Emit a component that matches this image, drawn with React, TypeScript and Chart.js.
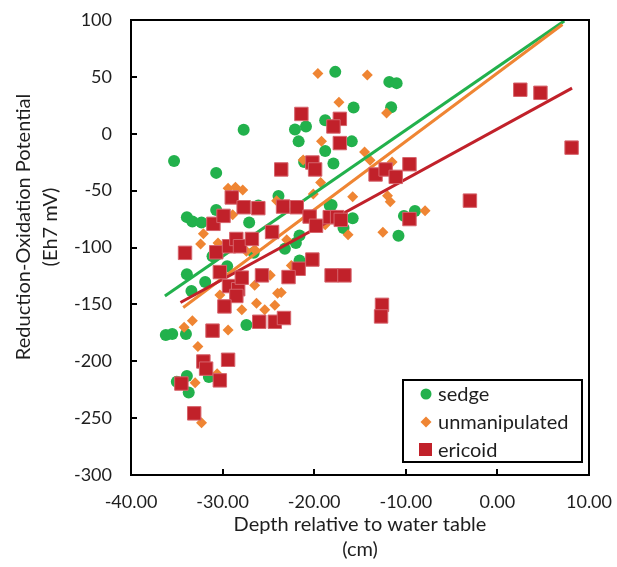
import React, { useEffect, useRef } from 'react';
import { Chart, registerables } from 'chart.js';

Chart.register(...registerables);

// Depth relative to water table (cm), Eh7 (mV)
const sedge: [number, number][] = [
  [-27.7, 3.5], [-35.3, -24], [-30.7, -34.4], [-30.7, -67], [-26.1, -63], [-17.7, 54.4],
  [-11.8, 45.6], [-11.0, 44.5], [-15.7, 23], [-11.6, 23.2], [-18.8, 11.9], [-22.1, 3.8],
  [-20.9, 6.4], [-21.7, -6.7], [-15.9, -6.7], [-18.8, -15.2], [-17.9, -26.2], [-21.1, -24.8],
  [-23.9, -54.7], [-18.1, -62.6], [-9.0, -68], [-10.2, -72.2], [-33.9, -73.3], [-33.3, -77.1],
  [-32.3, -78], [-27.1, -78], [-26.6, -104.7], [-31.1, -107.7], [-29.5, -116.4], [-33.9, -123.6],
  [-31.9, -130.4], [-33.4, -138.2], [-36.2, -176.9], [-35.5, -176], [-34.0, -176], [-27.4, -168.2],
  [-33.9, -212.9], [-31.5, -213.8], [-33.7, -227.5], [-35.0, -218], [-18.3, -63], [-15.8, -74.2],
  [-16.8, -82.9], [-10.8, -89.6], [-21.6, -89.4], [-22.0, -96], [-23.2, -101.2], [-21.6, -111.4],
];

const unmanipulated: [number, number][] = [
  [-29.4, -48], [-28.6, -47], [-27.8, -49.5], [-19.6, 52.9], [-14.2, 51.7], [-17.3, 27.6],
  [-12.1, 18.3], [-19.2, -6.7], [-14.5, -16], [-13.9, -23.3], [-11.5, -24.8], [-19.3, -42.8],
  [-20.1, -53], [-24.1, -58.8], [-15.8, -55.3], [-12.0, -54.4], [-11.7, -59.7], [-7.9, -67.8],
  [-28.9, -71.3], [-32.1, -87.9], [-32.4, -96.9], [-30.5, -96], [-27.4, -103.3], [-26.5, -101.8],
  [-26.5, -133.2], [-30.3, -141.7], [-26.3, -149], [-25.4, -154.8], [-27.9, -154.8], [-34.2, -170.2],
  [-33.3, -164.4], [-29.4, -172.5], [-32.7, -187.1], [-30.6, -210.9], [-33.0, -218.8], [-32.3, -254],
  [-16.3, -88.7], [-18.8, -80], [-12.5, -86.7], [-23.0, -93.1], [-22.5, -115.8], [-24.8, -124.5],
  [-24.0, -140.2], [-23.6, -139.6], [-24.3, -150.7], [-21.2, -23],
];

const ericoid: [number, number][] = [
  [-29.0, -56], [-27.7, -64.6], [-26.1, -65.4], [-21.4, 17.4], [-17.2, 13.1], [-17.9, 6.4],
  [-17.2, -8.2], [-20.2, -25.3], [-19.9, -31.4], [-23.6, -31.4], [-13.3, -35.8], [-12.2, -31.4],
  [-11.1, -37.9], [-9.6, -26.8], [-23.4, -64], [-21.9, -64.6], [2.5, 38.7], [4.7, 36],
  [8.1, -12.2], [-3.0, -58.8], [-31.0, -79.2], [-29.9, -72.2], [-34.1, -104.7], [-30.7, -104.2],
  [-29.3, -98.9], [-28.5, -92.5], [-28.1, -98.9], [-26.8, -92.5], [-30.3, -121.6], [-29.3, -133.9],
  [-28.3, -136.7], [-27.9, -126.5], [-28.5, -142.6], [-25.7, -124.5], [-29.8, -151.8], [-31.1, -173.1],
  [-26.0, -165.3], [-32.1, -200.2], [-31.8, -206.5], [-29.4, -198.7], [-34.5, -219.6], [-30.3, -216.8],
  [-33.1, -245.8], [-20.5, -72.8], [-19.8, -80.9], [-18.3, -73.3], [-17.5, -73.3], [-17.1, -75.7],
  [-9.6, -75], [-24.6, -86.4], [-20.2, -110.6], [-21.7, -118.7], [-22.8, -126], [-18.1, -124.5],
  [-16.7, -124.5], [-24.3, -165.3], [-23.3, -162], [-12.6, -150.4], [-12.7, -160.6],
];

// linear trendline end points
const sedgeFit: [number, number][] = [[-36.3, -142.6], [7.3, 99.2]];
const unmanipulatedFit: [number, number][] = [[-34.3, -152.7], [7.1, 96]];
const ericoidFit: [number, number][] = [[-34.6, -148.3], [8.15, 40.1]];

const seriesNames = ['sedge', 'unmanipulated', 'ericoid'];
const xTitle = ['Depth relative to water table', '(cm)'];
const yTitle = ['Reduction-Oxidation Potential', '(Eh7 mV)'];

const GREEN = '#22B14C';
const ORANGE = '#EF8533';
const RED = '#C1212A';
const FONT = 'Lato, "Liberation Sans", sans-serif';
const TEXT = '#1e1e1e';

const toPts = (arr: [number, number][]) => arr.map(([x, y]) => ({ x, y }));

const decorPlugin = {
  id: 'decor',
  afterDraw(chart: any) {
    const { ctx, chartArea: a, scales } = chart;
    ctx.save();
    // frame
    ctx.strokeStyle = '#000';
    ctx.lineWidth = 2;
    ctx.strokeRect(a.left, a.top, a.right - a.left, a.bottom - a.top);
    // inward tick marks
    const xs = scales.x, ys = scales.y;
    ctx.beginPath();
    xs.ticks.forEach((t: any) => {
      const px = Math.round(xs.getPixelForValue(t.value));
      ctx.moveTo(px, a.bottom);
      ctx.lineTo(px, a.bottom - 6);
    });
    ys.ticks.forEach((t: any) => {
      const py = Math.round(ys.getPixelForValue(t.value));
      ctx.moveTo(a.left, py);
      ctx.lineTo(a.left + 6, py);
    });
    ctx.stroke();

    // y title
    ctx.fillStyle = TEXT;
    ctx.font = '20px ' + FONT;
    ctx.textAlign = 'center';
    ctx.textBaseline = 'middle';
    const cy = 227;
    [24, 51].forEach((cx, i) => {
      ctx.save();
      ctx.translate(cx, cy);
      ctx.rotate(-Math.PI / 2);
      ctx.fillText(yTitle[i], 0, 0);
      ctx.restore();
    });

    // legend box
    const lx = 403, ly = 380, lw = 179, lh = 82;
    ctx.fillStyle = '#fff';
    ctx.fillRect(lx, ly, lw, lh);
    ctx.strokeStyle = '#000';
    ctx.lineWidth = 2;
    ctx.strokeRect(lx, ly, lw, lh);
    const rows = [394, 422, 450];
    const mx = 426;
    ctx.fillStyle = GREEN;
    ctx.beginPath();
    ctx.arc(mx, rows[0], 5.5, 0, Math.PI * 2);
    ctx.fill();
    ctx.fillStyle = ORANGE;
    ctx.beginPath();
    ctx.moveTo(mx - 5.5, rows[1]);
    ctx.lineTo(mx, rows[1] - 5.5);
    ctx.lineTo(mx + 5.5, rows[1]);
    ctx.lineTo(mx, rows[1] + 5.5);
    ctx.closePath();
    ctx.fill();
    ctx.fillStyle = RED;
    ctx.fillRect(mx - 7, rows[2] - 7, 13, 13);

    ctx.fillStyle = TEXT;
    ctx.font = '20px ' + FONT;
    ctx.textAlign = 'left';
    ctx.textBaseline = 'middle';
    seriesNames.forEach((n, i) => ctx.fillText(n, 438, rows[i] + 1));
    ctx.restore();
  },
};

export default function App() {
  const ref = useRef<HTMLCanvasElement>(null);
  useEffect(() => {
    if (!ref.current) return;
    const chart = new Chart(ref.current, {
      type: 'scatter',
      data: {
        datasets: [
          {
            label: seriesNames[2],
            data: toPts(ericoid),
            pointStyle: 'rect',
            pointRadius: 9.5,
            backgroundColor: RED,
            borderColor: '#D6646C',
            borderWidth: 1,
            order: 0,
          },
          {
            label: 'ericoid fit',
            data: toPts(ericoidFit),
            showLine: true,
            borderColor: RED,
            borderWidth: 3,
            pointRadius: 0,
            order: 1,
          },
          {
            label: 'unmanipulated fit',
            data: toPts(unmanipulatedFit),
            showLine: true,
            borderColor: ORANGE,
            borderWidth: 3,
            pointRadius: 0,
            order: 1,
          },
          {
            label: 'sedge fit',
            data: toPts(sedgeFit),
            showLine: true,
            borderColor: GREEN,
            borderWidth: 3,
            pointRadius: 0,
            order: 1,
          },
          {
            label: seriesNames[1],
            data: toPts(unmanipulated),
            pointStyle: 'rectRot',
            pointRadius: 5.5,
            backgroundColor: ORANGE,
            borderWidth: 0,
            order: 2,
          },
          {
            label: seriesNames[0],
            data: toPts(sedge),
            pointStyle: 'circle',
            pointRadius: 6,
            backgroundColor: GREEN,
            borderWidth: 0,
            order: 3,
          },
        ],
      },
      options: {
        animation: false,
        responsive: true,
        maintainAspectRatio: false,
        events: [],
        layout: { padding: { left: 0, right: 28, top: 20, bottom: 0 } },
        plugins: { legend: { display: false }, tooltip: { enabled: false } },
        scales: {
          x: {
            type: 'linear',
            min: -40,
            max: 10,
            grid: { display: false, drawTicks: false },
            border: { display: false },
            ticks: {
              stepSize: 10,
              padding: 16,
              color: TEXT,
              font: { family: FONT, size: 18 },
              callback: (v: any) => Number(v).toFixed(2),
            },
            title: {
              display: true,
              text: xTitle,
              color: TEXT,
              font: { family: FONT, size: 20, lineHeight: 1.25 },
              padding: { top: 0, bottom: 5 },
            },
            afterFit: (s: any) => {
              s.height = 92;
              s.paddingLeft = 0;
              s.paddingRight = 0;
            },
          },
          y: {
            type: 'linear',
            min: -300,
            max: 100,
            grid: { display: false, drawTicks: false },
            border: { display: false },
            ticks: {
              stepSize: 50,
              padding: 19,
              color: TEXT,
              font: { family: FONT, size: 18 },
            },
            afterFit: (s: any) => {
              s.width = 131;
              s.paddingTop = 0;
              s.paddingBottom = 0;
            },
          },
        },
      },
      plugins: [decorPlugin],
    });
    return () => chart.destroy();
  }, []);
  return (
    <div style={{ position: 'absolute', left: 0, top: 0, width: 617, height: 567, background: '#fff' }}>
      <canvas ref={ref} />
    </div>
  );
}
